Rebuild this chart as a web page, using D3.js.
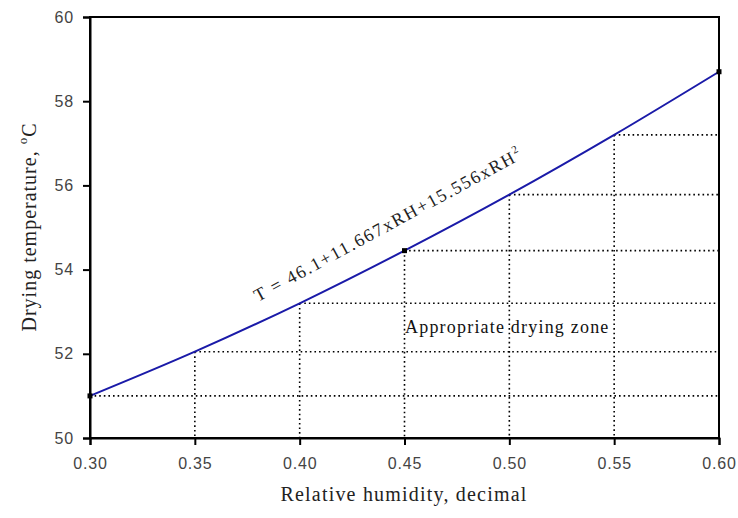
<!DOCTYPE html>
<html lang="en">
<head>
    <meta charset="UTF-8">
    <title></title>
    <style>
        body { margin: 0; background: #fff; }
    </style>
</head>
<body>
<script src="https://cdn.jsdelivr.net/npm/d3@7"></script>
<script>
    // values
    var humidity = [0.30, 0.35, 0.40, 0.45, 0.50, 0.55, 0.60];
    var temperature = [51.0, 52.05, 53.2, 54.45, 55.78, 57.2, 58.7];
    var markedPoints = [0, 3, 6];   // indices with a small black marker
    var xTicks = [0.30, 0.35, 0.40, 0.45, 0.50, 0.55, 0.60];
    var yTicks = [50, 52, 54, 56, 58, 60];

    var points = humidity.map(function (h, i) { return {x: h, y: temperature[i]}; });

    var width = 738, height = 518;
    var margin = {left: 90, right: 19, top: 17, bottom: 80};

    var svg = d3.select('body')
            .append('svg')
            .attr('width', width)
            .attr('height', height);

    var x = d3.scaleLinear().domain([0.30, 0.60]).range([margin.left, width - margin.right]);
    var y = d3.scaleLinear().domain([50, 60]).range([height - margin.bottom, margin.top]);

    // dotted guide lines: across to the right edge, and down to the x axis
    var guides = svg.append('g')
            .attr('stroke', '#000')
            .attr('stroke-width', 1.6)
            .attr('stroke-dasharray', '1.6,3');

    guides.selectAll('line.h')
            .data(points.slice(0, 6))
            .enter()
            .append('line')
            .attr('x1', function (d) { return x(d.x); })
            .attr('x2', x(0.60))
            .attr('y1', function (d) { return y(d.y); })
            .attr('y2', function (d) { return y(d.y); });

    guides.selectAll('line.v')
            .data(points.slice(1, 6))
            .enter()
            .append('line')
            .attr('x1', function (d) { return x(d.x); })
            .attr('x2', function (d) { return x(d.x); })
            .attr('y1', function (d) { return y(d.y); })
            .attr('y2', y(50));

    // frame
    svg.append('rect')
            .attr('x', x(0.30))
            .attr('y', y(60))
            .attr('width', x(0.60) - x(0.30))
            .attr('height', y(50) - y(60))
            .attr('fill', 'none')
            .attr('stroke', '#000')
            .attr('stroke-width', 2);

    var xAxis = svg.append('g')
            .attr('transform', 'translate(0,' + y(50) + ')')
            .call(d3.axisBottom(x).tickValues(xTicks).tickSize(7).tickPadding(13).tickFormat(d3.format('.2f')));

    var yAxis = svg.append('g')
            .attr('transform', 'translate(' + x(0.30) + ',0)')
            .call(d3.axisLeft(y).tickValues(yTicks).tickSize(7).tickPadding(9).tickFormat(d3.format('d')));

    [xAxis, yAxis].forEach(function (a) {
        a.attr('font-size', 16);
        a.select('.domain').attr('stroke', '#000').attr('stroke-width', 2);
        a.selectAll('.tick line').attr('stroke', '#000').attr('stroke-width', 2);
        a.selectAll('.tick text')
                .attr('fill', '#444')
                .attr('font-family', 'Liberation Sans, Arial, sans-serif')
                .attr('font-size', '16px')
                .attr('letter-spacing', '0.8px');
    });

    // the curve
    var line = d3.line()
            .x(function (d) { return x(d.x); })
            .y(function (d) { return y(d.y); })
            .curve(d3.curveCatmullRom);

    svg.append('path')
            .datum(points)
            .attr('d', line)
            .attr('fill', 'none')
            .attr('stroke', '#1a1aa8')
            .attr('stroke-width', 2);

    svg.selectAll('rect.mark')
            .data(markedPoints.map(function (i) { return points[i]; }))
            .enter()
            .append('rect')
            .attr('class', 'mark')
            .attr('x', function (d) { return x(d.x) - 2.5; })
            .attr('y', function (d) { return y(d.y) - 2.5; })
            .attr('width', 5)
            .attr('height', 5)
            .attr('fill', '#000');

    var serif = 'Liberation Serif, Times New Roman, serif';

    // equation along the curve
    svg.append('text')
            .attr('transform', 'translate(258,302) rotate(-28.5)')
            .attr('font-family', serif)
            .attr('font-size', '18px')
            .attr('letter-spacing', '1.7px')
            .attr('fill', '#222')
            .text('T = 46.1+11.667xRH+15.556xRH')
            .append('tspan')
            .attr('dy', -8)
            .attr('font-size', '11px')
            .text('2');

    svg.append('text')
            .attr('x', 405)
            .attr('y', 333)
            .attr('font-family', serif)
            .attr('font-size', '18px')
            .attr('letter-spacing', '1.2px')
            .attr('fill', '#111')
            .text('Appropriate drying zone');

    // axis titles
    svg.append('text')
            .attr('x', 404)
            .attr('y', 501)
            .attr('text-anchor', 'middle')
            .attr('font-family', serif)
            .attr('font-size', '20px')
            .attr('letter-spacing', '1.2px')
            .attr('fill', '#222')
            .text('Relative humidity, decimal');

    var yTitle = svg.append('text')
            .attr('transform', 'translate(36,227) rotate(-90)')
            .attr('text-anchor', 'middle')
            .attr('font-family', serif)
            .attr('font-size', '20px')
            .attr('letter-spacing', '1px')
            .attr('fill', '#222');
    yTitle.append('tspan').text('Drying temperature, ');
    yTitle.append('tspan').attr('dy', -9).attr('font-size', '13px').text('o');
    yTitle.append('tspan').attr('dy', 9).text('C');
</script>
</body>
</html>
